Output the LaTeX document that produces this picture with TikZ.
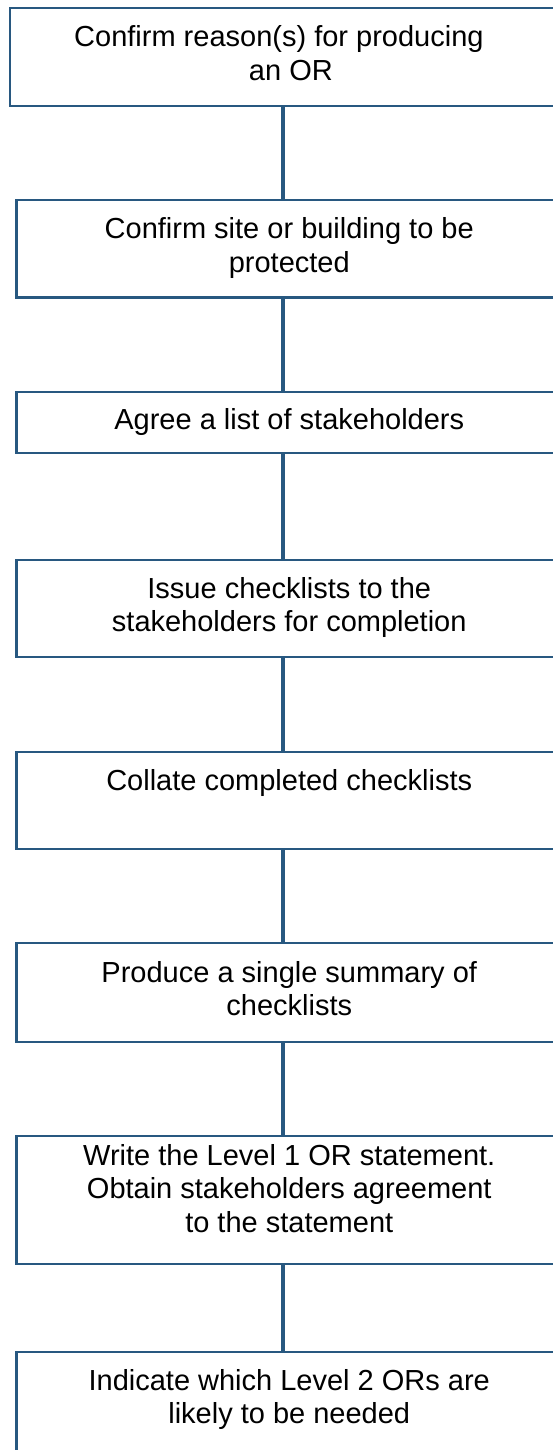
\documentclass[tikz,border=0pt]{standalone}
\usepackage{fontspec}
\setmainfont{Liberation Sans}
\usepackage{tikz}
\definecolor{steelblue}{RGB}{40,88,128}
\newcommand{\steptext}[1]{\begin{tabular}{@{}c@{}}#1\end{tabular}}
\tikzset{
stepbox/.style={draw=steelblue,line width=2.2pt,anchor=north west,outer sep=0pt,inner sep=0pt,
  minimum width=545.5pt,font=\fontsize{29}{33.5}\selectfont},
link/.style={draw=steelblue,line width=4pt}
}

\begin{document}
\begin{tikzpicture}[x=1pt,y=1pt]
\useasboundingbox (0,0) rectangle (552,-1450);
\coordinate (spine) at (283,0);
\node[stepbox,minimum width=562pt,minimum height=98pt] (reason) at (9.9,-8) {\steptext{Confirm reason(s) for producing\hspace*{24pt}\\ an OR}};
\node[stepbox,minimum height=97.5pt] (site) at (16.5,-200) {\steptext{Confirm site or building to be\\ protected}};
\node[stepbox,minimum height=61pt] (agree) at (16.5,-392) {\steptext{Agree a list of stakeholders}};
\node[stepbox,minimum height=97pt] (issue) at (16.5,-560) {\steptext{Issue checklists to the\\ stakeholders for completion}};
\node[stepbox,minimum height=97pt] (collate) at (16.5,-752) {\steptext{Collate completed checklists\\ \mbox{}}};
\node[stepbox,minimum height=99pt] (summary) at (16.5,-943) {\steptext{Produce a single summary of\\ checklists}};
\node[stepbox,minimum height=128pt] (write) at (16.5,-1136) {\steptext{Write the Level 1 OR statement.\\ Obtain stakeholders agreement\\ to the statement\\[16pt]}};
\node[stepbox,minimum height=130pt] (level) at (16.5,-1352) {\steptext{Indicate which Level 2 ORs are\\ likely to be needed\\ \mbox{}}};
\path[link]
(reason.south -| spine) edge (site.north -| spine)
(site.south -| spine) edge (agree.north -| spine)
(agree.south -| spine) edge (issue.north -| spine)
(issue.south -| spine) edge (collate.north -| spine)
(collate.south -| spine) edge (summary.north -| spine)
(summary.south -| spine) edge (write.north -| spine)
(write.south -| spine) edge (level.north -| spine);
\end{tikzpicture}
\end{document}
